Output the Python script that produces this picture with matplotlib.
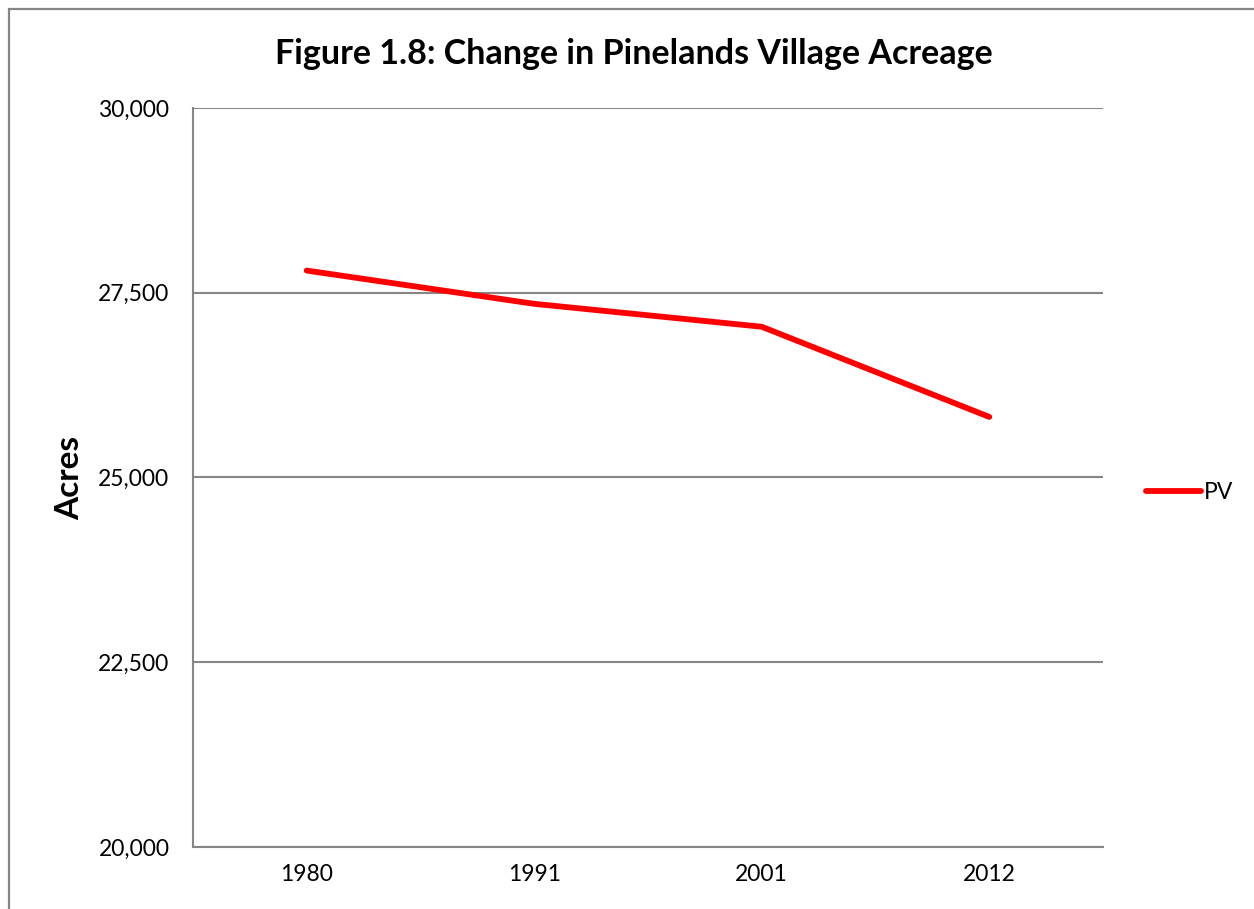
#!/usr/bin/env python

import matplotlib
matplotlib.use("Agg")
import matplotlib.pyplot as plt
from matplotlib.patches import Rectangle
from matplotlib.ticker import FuncFormatter

# data
years = ["1980", "1991", "2001", "2012"]
pv_acres = [27800, 27350, 27040, 25820]
y_ticks = [20000, 22500, 25000, 27500, 30000]

plt.rcParams['font.family'] = ['Lato', 'DejaVu Sans']

W, H = 1254, 909
fig = plt.figure(figsize=(W / 100, H / 100), dpi=100)

# outer chart border (runs off right and bottom edges)
fig.patches.append(Rectangle((9 / W, -0.05), 1.2, 1.05 - 9 / H, transform=fig.transFigure,
                             fill=False, edgecolor='#868686', linewidth=1.6))

ax = fig.add_axes([193 / W, 1 - 847 / H, (1103 - 193) / W, (847 - 108) / H])

x = range(len(years))
ax.plot(x, pv_acres, color='#FF0000', linewidth=4.2, solid_capstyle='round',
        solid_joinstyle='round', label='PV')

ax.set_xlim(-0.5, len(years) - 0.5)
ax.set_ylim(20000, 30000)
ax.set_xticks(list(x))
ax.set_xticklabels(years)
ax.set_yticks(y_ticks)
ax.yaxis.set_major_formatter(FuncFormatter(lambda v, p: "{:,.0f}".format(v)))
ax.tick_params(length=0, labelsize=16.5, pad=12)
ax.tick_params(axis='y', pad=17)

ax.grid(axis='y', color='#868686', linewidth=1.5)
ax.set_axisbelow(True)
for side in ['top', 'right']:
    ax.spines[side].set_visible(False)
for side in ['left', 'bottom']:
    ax.spines[side].set_color('#868686')
    ax.spines[side].set_linewidth(1.5)

ax.set_ylabel("Acres", fontsize=24, fontweight='bold', labelpad=10)
fig.text(634 / W, 1 - 54 / H, "Figure 1.8: Change in Pinelands Village Acreage",
         ha='center', va='center', fontsize=24.5, fontweight='bold')

ax.legend(loc='center left', bbox_to_anchor=(1.025, 0.48), frameon=False,
          fontsize=16.5, handlelength=2.4, handletextpad=0.1)

plt.savefig("out.png", dpi=100)
